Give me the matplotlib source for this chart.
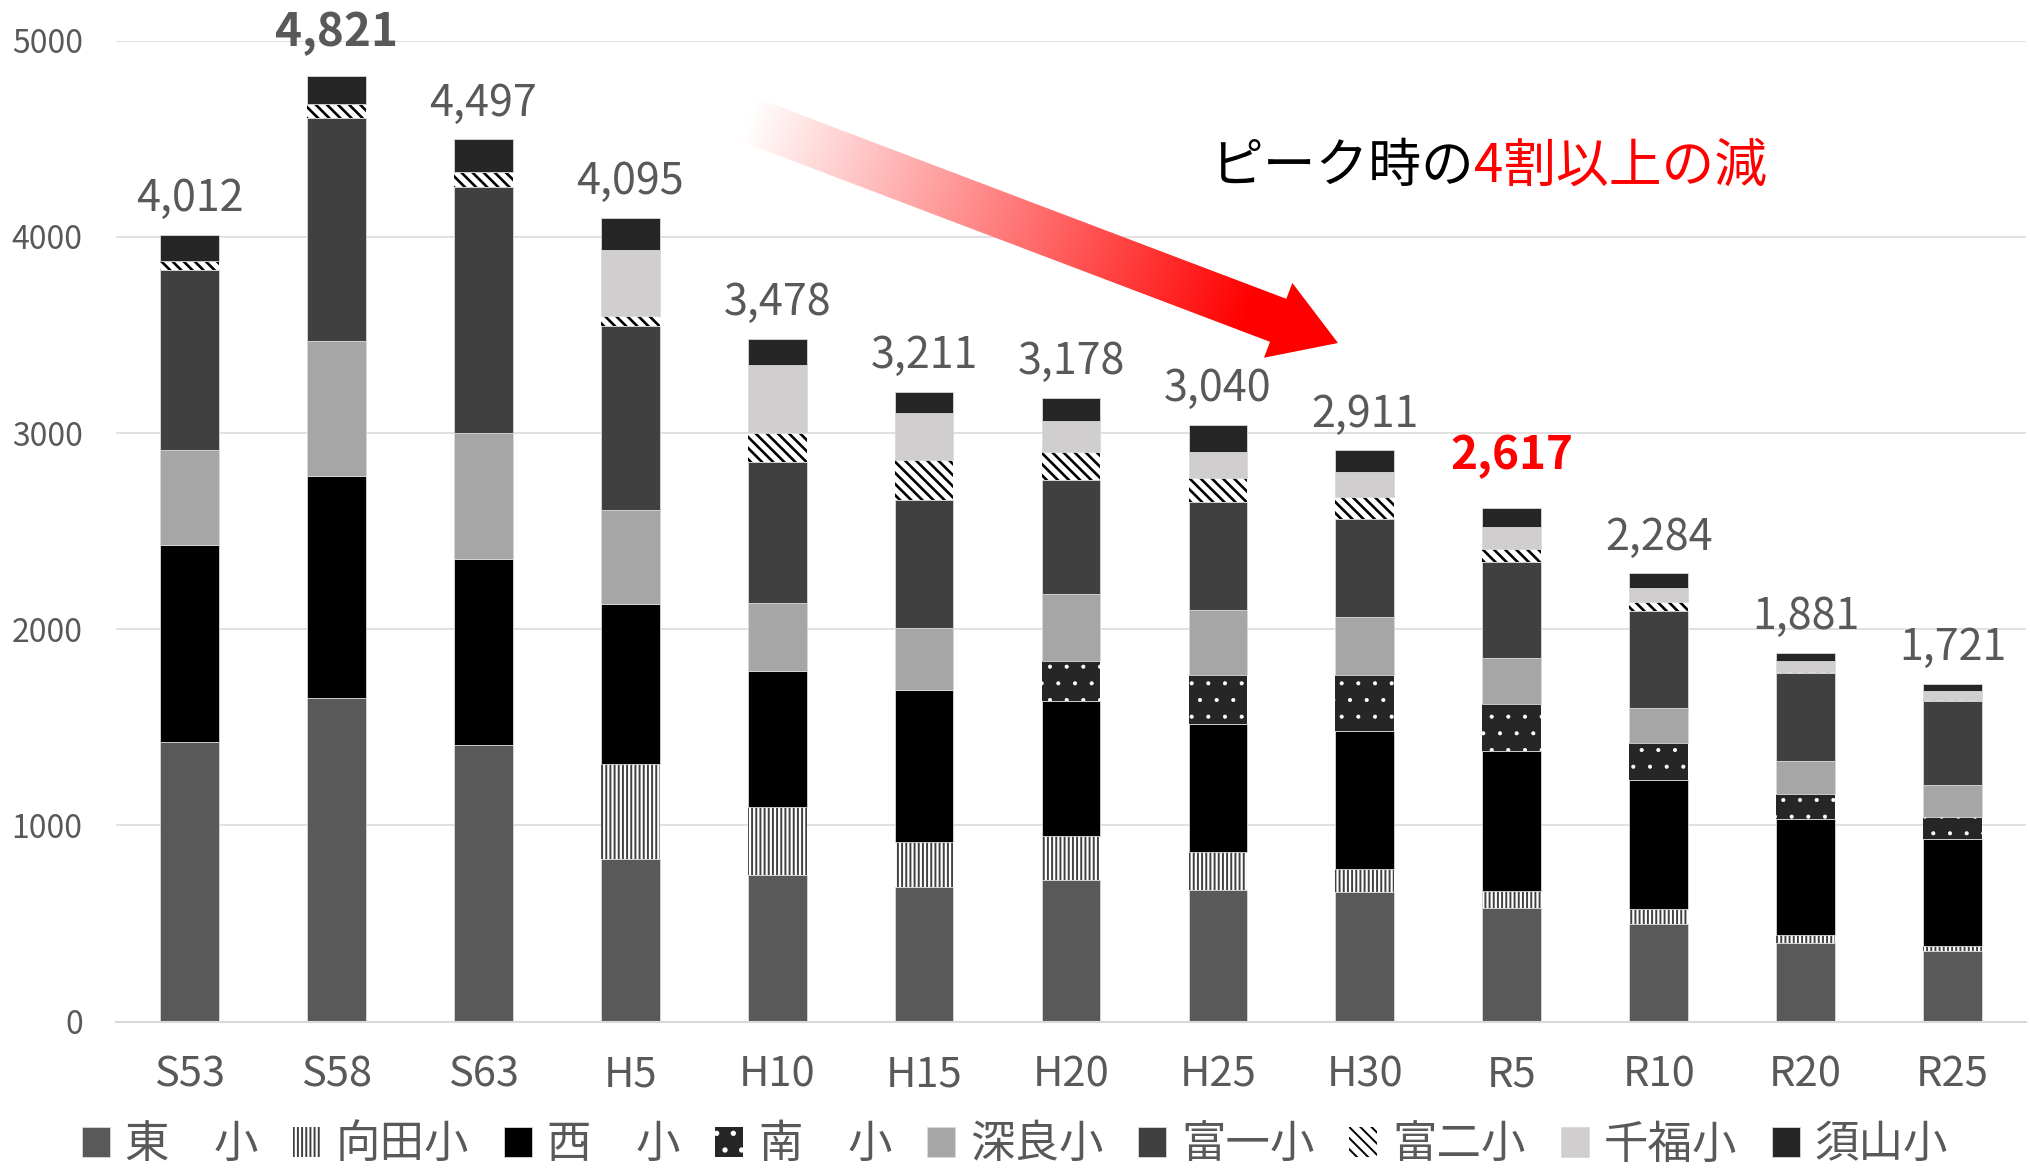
import matplotlib.pyplot as plt
import numpy as np
from matplotlib.patches import Polygon

plt.rcParams['font.family'] = ['Noto Sans CJK JP', 'DejaVu Sans']
plt.rcParams['hatch.linewidth'] = 1.4

# 年度と合計
years = ['S53', 'S58', 'S63', 'H5', 'H10', 'H15', 'H20', 'H25', 'H30', 'R5', 'R10', 'R20', 'R25']
totals = [4012, 4821, 4497, 4095, 3478, 3211, 3178, 3040, 2911, 2617, 2284, 1881, 1721]

# 学校別 児童数
higashi = [1426, 1647, 1408, 827, 748, 684, 719, 669, 658, 580, 496, 398, 357]
mukaida = [0, 0, 0, 487, 345, 230, 226, 196, 120, 85, 80, 42, 27]
nishi = [1002, 1134, 952, 814, 694, 778, 690, 650, 705, 713, 656, 591, 546]
minami = [0, 0, 0, 0, 0, 0, 205, 253, 285, 240, 186, 131, 111]
fukara = [485, 686, 638, 482, 345, 312, 337, 331, 295, 234, 181, 165, 163]
tomi1 = [916, 1138, 1256, 937, 721, 654, 581, 549, 500, 490, 494, 452, 430]
tomi2 = [46, 72, 79, 50, 149, 207, 147, 122, 112, 67, 48, 5, 5]
senpuku = [0, 0, 0, 335, 345, 237, 154, 131, 125, 112, 68, 56, 45]
suyama = [137, 144, 164, 163, 131, 109, 119, 139, 111, 96, 75, 41, 37]

names = ['東\u3000小', '向田小', '西\u3000小', '南\u3000小', '深良小', '富一小', '富二小', '千福小', '須山小']
series = [higashi, mukaida, nishi, minami, fukara, tomi1, tomi2, senpuku, suyama]

solid = dict(edgecolor='#D9D9D9', linewidth=0.6)
styles = [
    dict(color='#595959', **solid),
    dict(facecolor='white', edgecolor='#404040', hatch='||||', linewidth=0),
    dict(color='#000000', **solid),
    dict(facecolor='#262626', edgecolor='white', hatch='.', linewidth=0),
    dict(color='#A6A6A6', **solid),
    dict(color='#404040', **solid),
    dict(facecolor='white', edgecolor='black', hatch='\\\\\\', linewidth=0),
    dict(color='#D0CECE', **solid),
    dict(color='#262626', **solid),
]
hatch_lw = [1.4, 1.4, 1.4, 0.5, 1.4, 1.4, 1.9, 1.4, 1.4]

W, H = 2030, 1175
fig = plt.figure(figsize=(W / 100, H / 100), dpi=100)
ax = fig.add_axes([116 / W, 1 - 1021.5 / H, (2026 - 116) / W, (1021.5 - 40.7) / H])

x = np.arange(len(years))
bottom = np.zeros(len(years))
handles = []
for name, vals, st, hl_ in zip(names, series, styles, hatch_lw):
    with plt.rc_context({'hatch.linewidth': hl_}):
        b = ax.bar(x, vals, 0.4, bottom=bottom, label=name, **st)
    handles.append(b)
    bottom += np.array(vals)

ax.set_xlim(-0.5, len(years) - 0.5)
ax.set_ylim(0, 5000)
ax.set_yticks(range(0, 5001, 1000))
ax.set_xticks(x)
ax.set_xticklabels(years)
ax.set_axisbelow(True)
ax.yaxis.grid(True, color='#D9D9D9', linewidth=1.1)
for s in ['top', 'right', 'left']:
    ax.spines[s].set_visible(False)
ax.spines['bottom'].set_color('#D9D9D9')
ax.spines['bottom'].set_linewidth(1.5)
ax.tick_params(axis='both', length=0)
ax.tick_params(axis='y', labelsize=23, labelcolor='#595959', pad=24)
ax.tick_params(axis='x', labelsize=30, labelcolor='#595959', pad=24)

# 合計ラベル
for i, t in enumerate(totals):
    if years[i] == 'S58':
        ax.annotate(f'{t:,}', (x[i], bottom[i]), xytext=(0, 14), textcoords='offset points',
                    ha='center', va='bottom', fontsize=33, fontweight='bold', color='#595959')
    elif years[i] == 'R5':
        ax.annotate(f'{t:,}', (x[i], bottom[i]), xytext=(0, 21), textcoords='offset points',
                    ha='center', va='bottom', fontsize=33, fontweight='bold', color='red')
    else:
        ax.annotate(f'{t:,}', (x[i], bottom[i]), xytext=(0, 10), textcoords='offset points',
                    ha='center', va='bottom', fontsize=31, color='#595959')

fig.legend(handles=handles, loc='center', bbox_to_anchor=(0.5, 0.026), ncol=9,
           frameon=False, fontsize=32, labelcolor='#595959', handlelength=0.63,
           handleheight=0.67, handletextpad=0.34, columnspacing=0.78,
           borderpad=0, borderaxespad=0)

# グラデーション矢印
ov = fig.add_axes([0, 0, 1, 1], zorder=5)
ov.axis('off')
tail = np.array([747.0, 119.0])
tip = np.array([1338.0, 343.0])
L = np.linalg.norm(tip - tail)
u = (tip - tail) / L
n = np.array([-u[1], u[0]])
w, hw, hl = 46, 80, 64
base = tip - u * hl
pts = [tail + n * w / 2, base + n * w / 2, base + n * hw / 2, tip,
       base - n * hw / 2, base - n * w / 2, tail - n * w / 2]
poly = Polygon(pts, closed=True, facecolor='none', edgecolor='none')
ov.add_patch(poly)
xs = np.linspace(700, 1380, 400)
ys = np.linspace(60, 400, 200)
X, Y = np.meshgrid(xs, ys)
tt = ((X - tail[0]) * u[0] + (Y - tail[1]) * u[1]) / L
a = np.clip(tt / 0.85, 0, 1)
img = np.dstack([np.ones_like(a), 1 - a, 1 - a])
im = ov.imshow(img, extent=(700, 1380, 400, 60), origin='upper', aspect='auto', interpolation='bilinear')
im.set_clip_path(poly)
ov.set_xlim(0, W)
ov.set_ylim(H, 0)

t1 = ov.text(1210, 166, 'ピーク時の', fontsize=38, color='black', va='center', ha='left')
ov.annotate('4割以上の減', xy=(1, 0.5), xycoords=t1, va='center', ha='left', fontsize=38, color='red')

fig.savefig('out.png', dpi=100)
